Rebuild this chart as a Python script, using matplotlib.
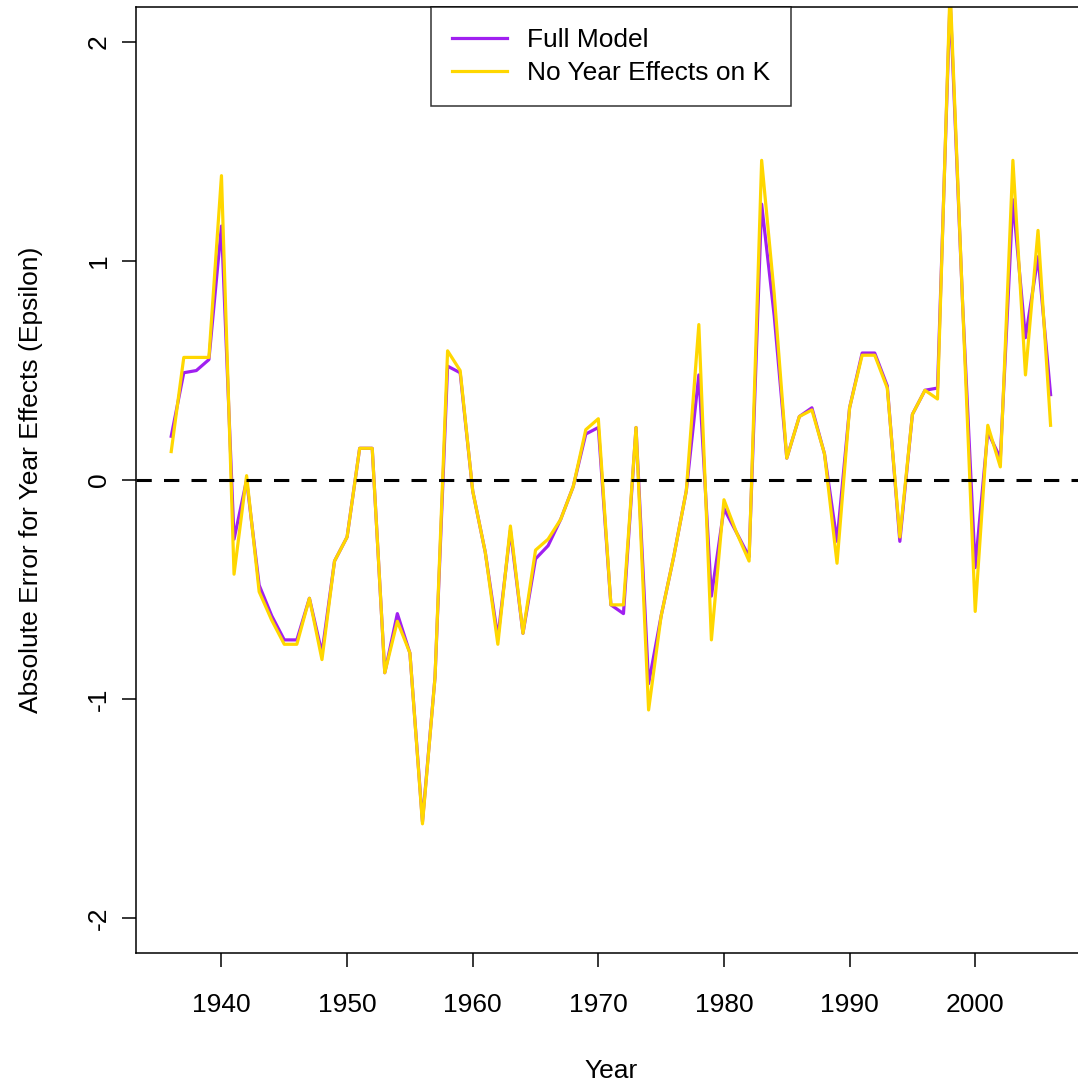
import numpy as np
import matplotlib.pyplot as plt

plt.rcParams["font.family"] = ["Liberation Sans", "DejaVu Sans"]

years = np.arange(1936, 2007)

# epsilon estimates, one value per year 1936-2006
full_model = [
    0.20, 0.49, 0.50, 0.55, 1.16, -0.27, 0.00, -0.48, -0.62, -0.73,
    -0.73, -0.54, -0.79, -0.37, -0.26, 0.145, 0.145, -0.88, -0.61, -0.79,
    -1.56, -0.90, 0.52, 0.49, -0.05, -0.33, -0.72, -0.23, -0.70, -0.36,
    -0.30, -0.18, -0.03, 0.21, 0.24, -0.57, -0.61, 0.24, -0.93, -0.62,
    -0.35, -0.05, 0.48, -0.53, -0.13, -0.24, -0.35, 1.26, 0.75, 0.10,
    0.29, 0.33, 0.12, -0.28, 0.33, 0.58, 0.58, 0.43, -0.28, 0.30,
    0.41, 0.42, 2.20, 0.80, -0.40, 0.22, 0.10, 1.28, 0.65, 1.02,
    0.39,
]
no_year_k = [
    0.13, 0.56, 0.56, 0.56, 1.39, -0.43, 0.02, -0.51, -0.64, -0.75,
    -0.75, -0.54, -0.82, -0.37, -0.26, 0.145, 0.145, -0.88, -0.645, -0.79,
    -1.57, -0.90, 0.59, 0.50, -0.05, -0.33, -0.75, -0.21, -0.70, -0.32,
    -0.27, -0.18, -0.03, 0.23, 0.28, -0.57, -0.57, 0.24, -1.05, -0.62,
    -0.35, -0.05, 0.71, -0.73, -0.09, -0.24, -0.37, 1.46, 0.85, 0.10,
    0.29, 0.32, 0.12, -0.38, 0.33, 0.57, 0.57, 0.42, -0.26, 0.30,
    0.41, 0.37, 2.25, 0.80, -0.60, 0.25, 0.06, 1.46, 0.48, 1.14,
    0.25,
]
series_names = ["Full Model", "No Year Effects on K"]
series_colors = ["#A020F0", "#FFD700"]

fig = plt.figure(figsize=(10.78, 10.83), dpi=100)
ax = fig.add_axes([0.1262, 0.12, 0.881, 0.8735])

ax.plot(years, full_model, color=series_colors[0], lw=2.3, label=series_names[0])
ax.plot(years, no_year_k, color=series_colors[1], lw=2.3, label=series_names[1])
ax.axhline(0, color="black", lw=2.2, ls=(0, (5, 4)))

ax.set_xlim(1933.2, 2008.8)
ax.set_ylim(-2.16, 2.16)
ax.set_xticks(np.arange(1940, 2001, 10))
ax.set_yticks([-2, -1, 0, 1, 2])
ax.set_yticklabels(["-2", "-1", "0", "1", "2"], rotation=90, va="center")
ax.tick_params(axis="both", direction="out", length=10, width=1.1,
               labelsize=19, color="black")
ax.tick_params(axis="x", pad=19)
ax.tick_params(axis="y", pad=8)
for sp in ax.spines.values():
    sp.set_linewidth(1.1)
    sp.set_color("black")

ax.set_xlabel("Year", fontsize=19, labelpad=30)
ax.set_ylabel("Absolute Error for Year Effects (Epsilon)", fontsize=19, labelpad=32)

leg = ax.legend(loc="upper center", bbox_to_anchor=(0.5, 1.0), borderaxespad=0,
                fontsize=19, frameon=True, fancybox=False, edgecolor="black",
                handlelength=2.1, handletextpad=0.75, borderpad=0.8,
                labelspacing=0.35)
leg.get_frame().set_linewidth(1.1)

fig.savefig("out.png", dpi=100)
